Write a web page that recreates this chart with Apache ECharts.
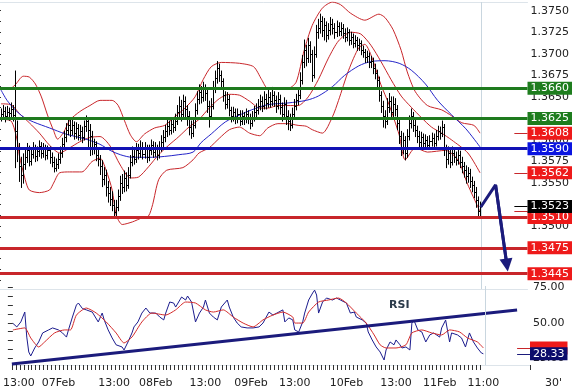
<!DOCTYPE html>
<html><head><meta charset="utf-8">
<script src="https://cdn.jsdelivr.net/npm/echarts@6/dist/echarts.min.js"></script>
<style>html,body{margin:0;padding:0;background:#fff}#c{width:572px;height:392px}</style>
</head><body><div id="c"></div>
<script>
// ---- OHLC (30-minute bars) ----
const open=[1.3627,1.3630,1.3634,1.3628,1.3633,1.3631,1.3636,1.3629,1.3610,1.3590,
1.3570,1.3560,1.3572,1.3580,1.3588,1.3576,1.3584,1.3590,1.3582,1.3587,
1.3593,1.3585,1.3590,1.3583,1.3588,1.3580,1.3575,1.3568,1.3572,1.3578,
1.3585,1.3595,1.3603,1.3612,1.3618,1.3612,1.3618,1.3608,1.3614,1.3606,
1.3611,1.3604,1.3616,1.3622,1.3612,1.3605,1.3590,1.3595,1.3583,1.3578,
1.3570,1.3555,1.3560,1.3545,1.3538,1.3532,1.3525,1.3516,1.3522,1.3535,
1.3550,1.3545,1.3556,1.3548,1.3560,1.3575,1.3582,1.3578,1.3588,1.3585,
1.3592,1.3584,1.3590,1.3580,1.3588,1.3594,1.3586,1.3590,1.3583,1.3592,
1.3598,1.3604,1.3610,1.3616,1.3612,1.3619,1.3615,1.3622,1.3632,1.3640,
1.3630,1.3645,1.3636,1.3628,1.3615,1.3608,1.3618,1.3635,1.3648,1.3656,
1.3650,1.3660,1.3655,1.3640,1.3628,1.3640,1.3660,1.3672,1.3684,1.3676,
1.3668,1.3652,1.3642,1.3648,1.3635,1.3628,1.3632,1.3625,1.3630,1.3622,
1.3628,1.3624,1.3630,1.3626,1.3620,1.3627,1.3632,1.3635,1.3640,1.3645,
1.3640,1.3648,1.3643,1.3650,1.3645,1.3652,1.3646,1.3640,1.3648,1.3638,
1.3630,1.3642,1.3628,1.3622,1.3618,1.3630,1.3640,1.3646,1.3652,1.3670,
1.3690,1.3705,1.3695,1.3710,1.3700,1.3675,1.3700,1.3725,1.3730,1.3738,
1.3728,1.3733,1.3722,1.3728,1.3735,1.3730,1.3725,1.3732,1.3727,1.3730,
1.3724,1.3720,1.3725,1.3716,1.3720,1.3713,1.3716,1.3710,1.3712,1.3705,
1.3702,1.3696,1.3698,1.3690,1.3692,1.3684,1.3678,1.3670,1.3652,1.3640,
1.3628,1.3622,1.3638,1.3645,1.3632,1.3642,1.3636,1.3620,1.3605,1.3592,
1.3600,1.3585,1.3605,1.3620,1.3628,1.3618,1.3612,1.3605,1.3598,1.3603,
1.3596,1.3600,1.3594,1.3599,1.3602,1.3597,1.3605,1.3610,1.3608,1.3615,
1.3590,1.3578,1.3585,1.3575,1.3585,1.3580,1.3577,1.3583,1.3575,1.3570,
1.3565,1.3558,1.3562,1.3552,1.3548,1.3540,1.3530,1.3518];
const high=[1.3636,1.3640,1.3638,1.3639,1.3637,1.3643,1.3640,1.3680,1.3622,1.3596,
1.3580,1.3584,1.3590,1.3596,1.3593,1.3590,1.3597,1.3594,1.3592,1.3599,
1.3597,1.3596,1.3594,1.3593,1.3592,1.3585,1.3580,1.3578,1.3584,1.3592,
1.3602,1.3610,1.3619,1.3624,1.3623,1.3624,1.3621,1.3620,1.3618,1.3617,
1.3615,1.3622,1.3628,1.3626,1.3618,1.3610,1.3601,1.3598,1.3589,1.3582,
1.3576,1.3568,1.3565,1.3552,1.3545,1.3540,1.3530,1.3530,1.3542,1.3558,
1.3560,1.3564,1.3562,1.3568,1.3582,1.3592,1.3588,1.3596,1.3595,1.3599,
1.3597,1.3597,1.3594,1.3594,1.3600,1.3598,1.3597,1.3594,1.3598,1.3605,
1.3611,1.3617,1.3623,1.3622,1.3626,1.3624,1.3630,1.3640,1.3650,1.3646,
1.3652,1.3650,1.3640,1.3633,1.3622,1.3626,1.3642,1.3656,1.3664,1.3662,
1.3667,1.3664,1.3658,1.3645,1.3648,1.3668,1.3680,1.3691,1.3688,1.3680,
1.3671,1.3656,1.3655,1.3652,1.3638,1.3638,1.3636,1.3636,1.3634,1.3634,
1.3632,1.3636,1.3634,1.3630,1.3633,1.3639,1.3642,1.3647,1.3652,1.3650,
1.3656,1.3653,1.3658,1.3655,1.3661,1.3656,1.3651,1.3655,1.3652,1.3643,
1.3649,1.3646,1.3634,1.3630,1.3637,1.3647,1.3653,1.3660,1.3678,1.3698,
1.3716,1.3710,1.3718,1.3714,1.3704,1.3708,1.3733,1.3740,1.3746,1.3743,
1.3741,1.3737,1.3735,1.3742,1.3740,1.3735,1.3738,1.3736,1.3736,1.3734,
1.3729,1.3730,1.3728,1.3725,1.3723,1.3721,1.3719,1.3717,1.3715,1.3709,
1.3705,1.3703,1.3701,1.3697,1.3695,1.3688,1.3681,1.3673,1.3656,1.3645,
1.3634,1.3648,1.3654,1.3650,1.3650,1.3648,1.3640,1.3626,1.3610,1.3608,
1.3604,1.3612,1.3628,1.3636,1.3632,1.3624,1.3616,1.3610,1.3609,1.3607,
1.3606,1.3604,1.3605,1.3608,1.3607,1.3611,1.3616,1.3615,1.3622,1.3618,
1.3594,1.3592,1.3590,1.3592,1.3590,1.3586,1.3590,1.3587,1.3580,1.3574,
1.3570,1.3568,1.3566,1.3557,1.3552,1.3545,1.3534,1.3528];
const low=[1.3622,1.3625,1.3621,1.3624,1.3623,1.3627,1.3622,1.3568,1.3575,1.3552,
1.3545,1.3550,1.3566,1.3574,1.3570,1.3571,1.3579,1.3575,1.3576,1.3581,
1.3579,1.3580,1.3577,1.3578,1.3573,1.3569,1.3563,1.3564,1.3567,1.3573,
1.3580,1.3590,1.3598,1.3606,1.3604,1.3606,1.3601,1.3602,1.3600,1.3600,
1.3597,1.3600,1.3610,1.3590,1.3582,1.3583,1.3584,1.3576,1.3570,1.3560,
1.3546,1.3548,1.3535,1.3528,1.3524,1.3518,1.3511,1.3511,1.3518,1.3530,
1.3538,1.3540,1.3541,1.3544,1.3556,1.3570,1.3572,1.3574,1.3578,1.3580,
1.3578,1.3579,1.3574,1.3576,1.3583,1.3580,1.3581,1.3577,1.3579,1.3587,
1.3592,1.3598,1.3604,1.3606,1.3607,1.3609,1.3611,1.3618,1.3627,1.3622,
1.3625,1.3626,1.3617,1.3606,1.3602,1.3604,1.3614,1.3630,1.3642,1.3643,
1.3645,1.3646,1.3632,1.3615,1.3624,1.3636,1.3655,1.3666,1.3668,1.3660,
1.3645,1.3636,1.3637,1.3628,1.3621,1.3622,1.3619,1.3620,1.3617,1.3618,
1.3618,1.3620,1.3619,1.3613,1.3616,1.3622,1.3627,1.3630,1.3635,1.3633,
1.3636,1.3636,1.3638,1.3638,1.3640,1.3639,1.3632,1.3636,1.3630,1.3622,
1.3625,1.3618,1.3612,1.3611,1.3614,1.3626,1.3635,1.3641,1.3648,1.3665,
1.3684,1.3686,1.3690,1.3690,1.3668,1.3672,1.3696,1.3718,1.3724,1.3720,
1.3716,1.3714,1.3717,1.3722,1.3723,1.3718,1.3720,1.3721,1.3721,1.3718,
1.3714,1.3715,1.3710,1.3711,1.3707,1.3708,1.3704,1.3704,1.3699,1.3696,
1.3690,1.3690,1.3684,1.3684,1.3677,1.3671,1.3662,1.3645,1.3632,1.3615,
1.3614,1.3618,1.3632,1.3625,1.3627,1.3628,1.3612,1.3596,1.3582,1.3584,
1.3577,1.3580,1.3600,1.3614,1.3610,1.3604,1.3597,1.3591,1.3592,1.3590,
1.3590,1.3589,1.3589,1.3593,1.3591,1.3593,1.3600,1.3601,1.3604,1.3582,
1.3568,1.3572,1.3568,1.3571,1.3574,1.3571,1.3572,1.3568,1.3562,1.3557,
1.3550,1.3551,1.3545,1.3540,1.3533,1.3522,1.3511,1.3510];
const close=[1.3630,1.3634,1.3628,1.3633,1.3631,1.3636,1.3629,1.3610,1.3590,1.3570,
1.3560,1.3572,1.3580,1.3588,1.3576,1.3584,1.3590,1.3582,1.3587,1.3593,
1.3585,1.3590,1.3583,1.3588,1.3580,1.3575,1.3568,1.3572,1.3578,1.3585,
1.3595,1.3603,1.3612,1.3618,1.3612,1.3618,1.3608,1.3614,1.3606,1.3611,
1.3604,1.3616,1.3622,1.3612,1.3605,1.3590,1.3595,1.3583,1.3578,1.3570,
1.3555,1.3560,1.3545,1.3538,1.3532,1.3525,1.3516,1.3522,1.3535,1.3550,
1.3545,1.3556,1.3548,1.3560,1.3575,1.3582,1.3578,1.3588,1.3585,1.3592,
1.3584,1.3590,1.3580,1.3588,1.3594,1.3586,1.3590,1.3583,1.3592,1.3598,
1.3604,1.3610,1.3616,1.3612,1.3619,1.3615,1.3622,1.3632,1.3640,1.3630,
1.3645,1.3636,1.3628,1.3615,1.3608,1.3618,1.3635,1.3648,1.3656,1.3650,
1.3660,1.3655,1.3640,1.3628,1.3640,1.3660,1.3672,1.3684,1.3676,1.3668,
1.3652,1.3642,1.3648,1.3635,1.3628,1.3632,1.3625,1.3630,1.3622,1.3628,
1.3624,1.3630,1.3626,1.3620,1.3627,1.3632,1.3635,1.3640,1.3645,1.3640,
1.3648,1.3643,1.3650,1.3645,1.3652,1.3646,1.3640,1.3648,1.3638,1.3630,
1.3642,1.3628,1.3622,1.3618,1.3630,1.3640,1.3646,1.3652,1.3670,1.3690,
1.3705,1.3695,1.3710,1.3700,1.3675,1.3700,1.3725,1.3730,1.3738,1.3728,
1.3733,1.3722,1.3728,1.3735,1.3730,1.3725,1.3732,1.3727,1.3730,1.3724,
1.3720,1.3725,1.3716,1.3720,1.3713,1.3716,1.3710,1.3712,1.3705,1.3702,
1.3696,1.3698,1.3690,1.3692,1.3684,1.3678,1.3670,1.3652,1.3640,1.3628,
1.3622,1.3638,1.3645,1.3632,1.3642,1.3636,1.3620,1.3605,1.3592,1.3600,
1.3585,1.3605,1.3620,1.3628,1.3618,1.3612,1.3605,1.3598,1.3603,1.3596,
1.3600,1.3594,1.3599,1.3602,1.3597,1.3605,1.3610,1.3608,1.3615,1.3590,
1.3578,1.3585,1.3575,1.3585,1.3580,1.3577,1.3583,1.3575,1.3570,1.3565,
1.3558,1.3562,1.3552,1.3548,1.3540,1.3530,1.3518,1.3523];

// ---- Bollinger bands and moving average: [bar index, price] ----
const bbUpper=[[0,1.3659],[4,1.3659],[7,1.3664],[11,1.3674],[14,1.3673],[17,1.3665],[20,1.3650],[23,1.3629],[26,1.3611],[28,1.3601],[31,1.3609],[34,1.3623],[39,1.3633],[44,1.3640],[49,1.3646],[55,1.3646],[58,1.3640],[61,1.3623],[64,1.3606],[67,1.3598],[71,1.3607],[76,1.3614],[81,1.3617],[86,1.3627],[91,1.3637],[96,1.3650],[100,1.3670],[104,1.3685],[109,1.3690],[118,1.3689],[125,1.3685],[129,1.3670],[132,1.3660],[142,1.3660],[146,1.3667],[150,1.3704],[154,1.3733],[159,1.3753],[164,1.3760],[168,1.3757],[173,1.3747],[180,1.3739],[187,1.3746],[190,1.3742],[194,1.3728],[198,1.3704],[201,1.3679],[205,1.3656],[211,1.3640],[218,1.3635],[223,1.3628],[228,1.3620],[234,1.3617],[237,1.3608]];
const bbMiddle=[[0,1.3642],[5,1.3641],[9,1.3631],[14,1.3620],[19,1.3608],[24,1.3594],[29,1.3585],[34,1.3591],[39,1.3598],[44,1.3603],[49,1.3604],[54,1.3593],[59,1.3571],[64,1.3556],[68,1.3557],[73,1.3569],[78,1.3583],[83,1.3594],[88,1.3604],[93,1.3615],[98,1.3624],[103,1.3637],[108,1.3648],[113,1.3653],[118,1.3652],[123,1.3645],[128,1.3637],[132,1.3637],[137,1.3640],[142,1.3640],[147,1.3640],[152,1.3650],[157,1.3670],[162,1.3695],[167,1.3715],[173,1.3725],[178,1.3723],[183,1.3710],[188,1.3691],[193,1.3670],[198,1.3651],[203,1.3638],[208,1.3626],[213,1.3615],[218,1.3608],[223,1.3600],[231,1.3585],[237,1.3562]];
const bbLower=[[0,1.3624],[5,1.3622],[8,1.3600],[9,1.3583],[12,1.3554],[14,1.3542],[19,1.3539],[24,1.3542],[26,1.3550],[29,1.3562],[34,1.3563],[40,1.3563],[45,1.3575],[49,1.3579],[52,1.3565],[55,1.3542],[57,1.3513],[60,1.3502],[65,1.3505],[70,1.3510],[73,1.3512],[75,1.3525],[78,1.3554],[82,1.3565],[90,1.3568],[95,1.3577],[98,1.3585],[103,1.3591],[108,1.3602],[113,1.3612],[118,1.3615],[123,1.3608],[128,1.3605],[132,1.3614],[137,1.3619],[142,1.3619],[147,1.3617],[151,1.3616],[154,1.3612],[159,1.3608],[164,1.3627],[167,1.3646],[172,1.3681],[177,1.3707],[180,1.3711],[183,1.3699],[188,1.3664],[192,1.3641],[197,1.3606],[200,1.3577],[205,1.3591],[211,1.3586],[220,1.3588],[226,1.3577],[231,1.3548],[237,1.3517]];
const movAvg=[[0,1.3658],[3,1.3646],[7,1.3635],[11,1.3627],[16,1.3621],[24,1.3614],[32,1.3607],[42,1.3601],[49,1.3595],[54,1.3588],[59,1.3583],[65,1.3580],[75,1.3580],[81,1.3581],[88,1.3583],[95,1.3586],[99,1.3597],[104,1.3607],[111,1.3621],[118,1.3629],[124,1.3635],[132,1.3641],[142,1.3643],[151,1.3646],[157,1.3651],[164,1.3662],[170,1.3675],[177,1.3686],[183,1.3691],[190,1.3692],[197,1.3689],[203,1.3681],[210,1.3665],[216,1.3646],[223,1.3629],[230,1.3613],[237,1.3592]];

// ---- RSI and its average: [bar index, value] ----
const rsi=[[0,49.6],[2,47.1],[4,50.6],[6,57.5],[7,40],[8,29.6],[9,26.8],[11,32.4],[13,36.6],[15,42.9],[18,45],[20,46.4],[23,45],[25,42.9],[27,40],[28,45],[30,54],[32,62.4],[33,63.8],[35,60],[37,59],[40,57.5],[41,56.8],[43,50.6],[45,56.8],[46,52],[48,45],[50,39.4],[52,34.6],[55,33.1],[56,31],[58,36.6],[60,42.9],[61,47.1],[63,50.6],[65,56.8],[67,60.3],[69,56.8],[72,56.8],[74,54],[76,52],[77,56.8],[79,64.5],[81,63.8],[82,61],[85,68],[87,65.9],[88,68.7],[90,64.5],[92,50.6],[94,56.8],[96,61],[97,65.9],[99,56.8],[101,54],[103,52],[105,61],[108,65.9],[109,61],[111,54],[113,49.8],[115,47.1],[118,46.4],[121,46.4],[124,47.1],[126,49.8],[129,57.5],[131,55.4],[133,56.8],[136,59],[137,50.6],[139,53.4],[141,52],[142,45],[144,43.6],[146,50.6],[147,56.8],[149,65.9],[151,70.8],[152,72.8],[153,69.4],[154,56.8],[156,64.5],[158,67.3],[161,65.9],[163,67.3],[165,65.9],[168,63.8],[170,56.8],[172,57.5],[173,54],[176,52],[178,49.8],[179,43.6],[181,38],[183,33.1],[185,29.6],[187,24],[188,31],[190,36.6],[192,34.6],[193,38],[195,34.6],[196,32.4],[198,33.1],[200,31],[201,49.8],[202,51.9],[204,45],[206,43.6],[208,36.6],[210,41.5],[212,42.9],[215,40],[216,46.4],[218,51.9],[220,36.6],[221,42.9],[224,41.5],[226,39.4],[228,33.1],[230,42.9],[232,36.6],[234,32.4],[236,28.9],[237,28.33]];
const rsiAvg=[[0,45],[6,46.4],[9,39.4],[13,33.1],[16,36.6],[21,42.9],[26,45],[29,45],[32,55.4],[37,60.3],[42,56.8],[47,50.6],[52,42.9],[56,35.9],[60,40],[65,50.6],[70,56.8],[77,55.4],[82,59],[87,64.5],[92,63.8],[97,59],[101,57.5],[106,59],[111,54],[116,49.8],[121,47.1],[126,52],[131,55.4],[136,57.5],[141,54],[142,49.8],[146,49.8],[149,57.5],[154,64.5],[159,65.9],[164,67.3],[168,63.8],[173,56.8],[178,49.8],[182,41.5],[185,34.6],[188,32.4],[193,32.4],[198,34.6],[201,42.9],[206,45],[211,42.9],[216,41.5],[220,45],[225,43.6],[229,39.4],[234,36.6],[237,32.4]];
const rsiTrend=[[-0.5,21.2],[254,58.9]];
const forecast=[[237.3,1.3522],[244.7,1.3548],[250.3,1.3455]];

// ---- levels and axis labels ----
const levelGreen=[1.3660,1.3625];
const levelBlue=[1.3590];
const levelRed=[1.3510,1.3475,1.3445];
const lastUpper=1.3608, lastMiddle=1.3562, lastLower=1.3517, lastPrice=1.3523;
const lastRsi=28.33, lastRsiAvg=32.4;
const priceLabels=[1.3475,1.3500,1.3525,1.3550,1.3575,1.3600,1.3625,1.3650,1.3675,1.3700,1.3725,1.3750];
const priceTickValues=[1.34375,1.3450,1.34625,1.3475,1.34875,1.3500,1.35125,1.3525,1.35375,1.3550,1.35625,1.3575,1.35875,1.3600,1.36125,1.3625,1.36375,1.3650,1.36625,1.3675,1.36875,1.3700,1.37125,1.3725,1.37375,1.3750];
const rsiLabels=[25,50,75];
const rsiTickValues=[25,31.25,37.5,43.75,50,56.25,62.5,68.75,75];
const timeIdx=[3,23,51,72,97,120,142,168,193,215,237];
const timeText=['13:00','07Feb','13:00','08Feb','13:00','09Feb','13:00','10Feb','13:00','11Feb','11:00'];
const SLOTS=261, LAST=237;

const slots=[]; for(let i=0;i<SLOTS;i++) slots.push(String(i));

const FONT='DejaVu Sans';
const GREEN='#1e7a1e', BLUE='#1212b4', RED='#c8262a', NAVY='#1b1b7c';
const BOX_RED='#ee1a1a', BOX_BLUE='#0a14e0', BOX_GREEN='#1e7d1e';

function boxLabel(text,bg,fg){
  return {show:true,position:'end',distance:0,formatter:text,backgroundColor:bg,color:fg||'#fff',
    padding:[1,3,0,3],fontSize:11,lineHeight:12,fontFamily:FONT};
}
function level(v,lc,bc){
  return {yAxis:v,lineStyle:{color:lc,width:3,type:'solid'},label:boxLabel(v.toFixed(4),bc)};
}
function stub(v,lc,bc,text,fg){
  const a={coord:[254,v],lineStyle:{color:lc,width:1,type:'solid'}};
  a.label=bc?boxLabel(text,bc,fg):{show:false};
  return [a,{coord:[SLOTS-0.5,v]}];
}

const ohlc=close.map((c,i)=>[i,open[i],high[i],low[i],c]);

function renderOHLC(params,api){
  const i=api.value(0);
  const pH=api.coord([i,api.value(2)]);
  const pL=api.coord([i,api.value(3)]);
  const pO=api.coord([i,api.value(1)]);
  const pC=api.coord([i,api.value(4)]);
  const x=Math.round(pH[0])+0.5;
  const st={stroke:'#000',lineWidth:1};
  return {type:'group',children:[
    {type:'line',shape:{x1:x,y1:pH[1]-0.5,x2:x,y2:pL[1]+0.5},style:st},
    {type:'line',shape:{x1:x-2,y1:Math.round(pO[1])+0.5,x2:x,y2:Math.round(pO[1])+0.5},style:st},
    {type:'line',shape:{x1:x,y1:Math.round(pC[1])+0.5,x2:x+2,y2:Math.round(pC[1])+0.5},style:st}
  ]};
}

const chart=echarts.init(document.getElementById('c'),null,{renderer:'canvas'});
const axisText={color:'#222',fontFamily:FONT,fontSize:11};
const nowLine={xAxis:LAST+0.8,lineStyle:{color:'#c9d6df',width:1,type:'solid'},label:{show:false}};

chart.setOption({
  animation:false,
  backgroundColor:'#fff',
  grid:[{left:0,right:42,top:2,height:287},{left:0,right:42,top:286,height:79}],
  xAxis:[
    {type:'category',gridIndex:0,data:slots,boundaryGap:true,axisLine:{show:true,lineStyle:{color:'#dde4ea'}},axisTick:{show:false},axisLabel:{show:false},splitLine:{show:false}},
    {type:'value',gridIndex:0,min:-0.5,max:SLOTS-0.5,position:'top',axisLine:{show:true,onZero:false,lineStyle:{color:'#dde4ea'}},axisTick:{show:false},axisLabel:{show:false},splitLine:{show:false}},
    {type:'category',gridIndex:1,data:slots,boundaryGap:true,position:'bottom',
      axisLine:{show:true,lineStyle:{color:'#dde4ea'}},
      axisTick:{show:true,length:5,interval:(i)=>i<=LAST && i%2===0,lineStyle:{color:'#333'}},
      axisLabel:Object.assign({margin:13,interval:(i)=>timeIdx.indexOf(i)>=0,formatter:(v,i)=>{const k=timeIdx.indexOf(+v);return k>=0?timeText[k]:'';}},axisText),
      splitLine:{show:false}},
    {type:'value',gridIndex:1,min:-0.5,max:SLOTS-0.5,show:false}
  ],
  yAxis:[
    {type:'value',gridIndex:0,position:'right',min:1.34272,max:1.37601,scale:true,
      axisLine:{show:false},splitLine:{show:false},
      axisTick:{show:true,inside:true,length:5,customValues:priceTickValues,lineStyle:{color:'#333'}},
      axisLabel:Object.assign({margin:3,customValues:priceLabels,formatter:v=>v.toFixed(4)},axisText)},
    {type:'value',gridIndex:1,position:'right',min:20.5,max:75.7,
      axisLine:{show:false},splitLine:{show:false},
      axisTick:{show:true,inside:true,length:5,customValues:rsiTickValues,lineStyle:{color:'#333'}},
      axisLabel:Object.assign({margin:3,customValues:rsiLabels,formatter:v=>v.toFixed(2)},axisText)}
  ],
  graphic:[
    {type:'text',left:389,top:300,style:{text:'RSI',font:'bold 11px "DejaVu Sans"',fill:'#2b3a4a'}},
    {type:'text',left:545,top:378,style:{text:"30'",font:'11px "DejaVu Sans"',fill:'#222'}}
  ],
  series:[
    {type:'custom',name:'price',xAxisIndex:0,yAxisIndex:0,data:ohlc,renderItem:renderOHLC,encode:{x:0,y:[1,2,3,4]},silent:true,z:3},
    {type:'line',name:'bbU',xAxisIndex:1,yAxisIndex:0,data:bbUpper,showSymbol:false,smooth:0.25,lineStyle:{color:RED,width:1},silent:true,z:2},
    {type:'line',name:'bbM',xAxisIndex:1,yAxisIndex:0,data:bbMiddle,showSymbol:false,smooth:0.25,lineStyle:{color:RED,width:1},silent:true,z:2},
    {type:'line',name:'bbL',xAxisIndex:1,yAxisIndex:0,data:bbLower,showSymbol:false,smooth:0.25,lineStyle:{color:RED,width:1},silent:true,z:2},
    {type:'line',name:'ma',xAxisIndex:1,yAxisIndex:0,data:movAvg,showSymbol:false,smooth:0.3,lineStyle:{color:'#2424c8',width:1},silent:true,z:2,clip:false,
      markLine:{silent:true,symbol:['none','none'],animation:false,precision:6,
        data:[nowLine]
          .concat(levelGreen.map(v=>level(v,GREEN,BOX_GREEN)))
          .concat(levelBlue.map(v=>level(v,BLUE,BOX_BLUE)))
          .concat(levelRed.map(v=>level(v,RED,BOX_RED)))
          .concat([stub(lastUpper,RED,BOX_RED,lastUpper.toFixed(4)),stub(lastMiddle,RED,BOX_RED,lastMiddle.toFixed(4)),
                   stub(lastLower,RED,null),stub(lastPrice,'#000','#000',lastPrice.toFixed(4))])
      }},
    {type:'line',name:'forecast',xAxisIndex:1,yAxisIndex:0,data:forecast,showSymbol:false,lineStyle:{color:NAVY,width:3},silent:true,z:6,clip:false,
      markLine:{silent:true,symbol:['none','triangle'],symbolSize:[13,13],animation:false,precision:6,label:{show:false},
        data:[[{coord:forecast[1],lineStyle:{color:NAVY,width:3,type:'solid'}},{coord:forecast[2]}]]}},
    {type:'line',name:'rsi',xAxisIndex:3,yAxisIndex:1,data:rsi,showSymbol:false,lineStyle:{color:'#1c1c8e',width:1},silent:true,z:3,clip:false,
      markLine:{silent:true,symbol:['none','none'],animation:false,precision:4,
        data:[nowLine,stub(lastRsiAvg,RED,BOX_RED,lastRsiAvg.toFixed(2),BOX_RED),stub(lastRsi,NAVY,'#0c0c6c',lastRsi.toFixed(2))]}},
    {type:'line',name:'rsiAvg',xAxisIndex:3,yAxisIndex:1,data:rsiAvg,showSymbol:false,smooth:0.2,lineStyle:{color:'#d42a2a',width:1},silent:true,z:3},
    {type:'line',name:'rsiTrend',xAxisIndex:3,yAxisIndex:1,data:rsiTrend,showSymbol:false,lineStyle:{color:NAVY,width:3},silent:true,z:4}
  ]
});
</script></body></html>
